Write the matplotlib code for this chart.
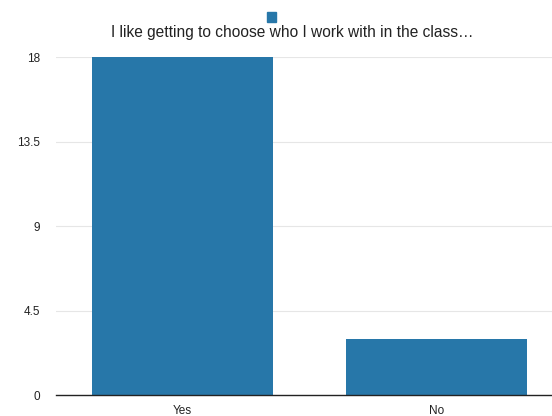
import matplotlib
matplotlib.use("Agg")
import matplotlib.pyplot as plt
from matplotlib.patches import Rectangle

plt.rcParams["font.family"] = ["Liberation Sans", "DejaVu Sans"]

answers = ["Yes", "No"]
counts = [18, 3]
yticks = [0, 4.5, 9, 13.5, 18]
ytick_labels = ["0", "4.5", "9", "13.5", "18"]
title = "I like getting to choose who I work with in the class\u2026"
color = "#2777a9"

fig = plt.figure(figsize=(5.52, 4.16), dpi=100)
ax = fig.add_axes([55.5 / 552, 21 / 416, 508 / 552, 338 / 416])

x = list(range(len(answers)))
ax.bar(x, counts, width=0.71, color=color, zorder=3)
ax.set_xlim(-0.5, len(answers) - 0.5)
ax.set_ylim(0, 18)

ax.set_yticks(yticks)
ax.set_yticklabels(ytick_labels)
ax.set_xticks(x)
ax.set_xticklabels(answers)
ax.tick_params(axis="both", length=0, labelsize=8.5, colors="#222222")
ax.tick_params(axis="y", pad=11)
ax.tick_params(axis="x", pad=7)
ax.grid(axis="y", color="#e6e6e6", linewidth=0.8, zorder=0)
for s in ["top", "right", "left"]:
    ax.spines[s].set_visible(False)
ax.spines["bottom"].set_color("#222222")
ax.spines["bottom"].set_linewidth(1.0)
ax.spines["bottom"].set_zorder(4)

# legend swatch and title above the plot
fig.patches.append(Rectangle((267 / 552, 1 - 22 / 416), 9 / 552, 10 / 416,
                             transform=fig.transFigure, color=color))
fig.text(292 / 552, 1 - 32 / 416, title, ha="center", va="center",
         fontsize=11.2, color="#222222")

fig.savefig("out.png", dpi=100)
